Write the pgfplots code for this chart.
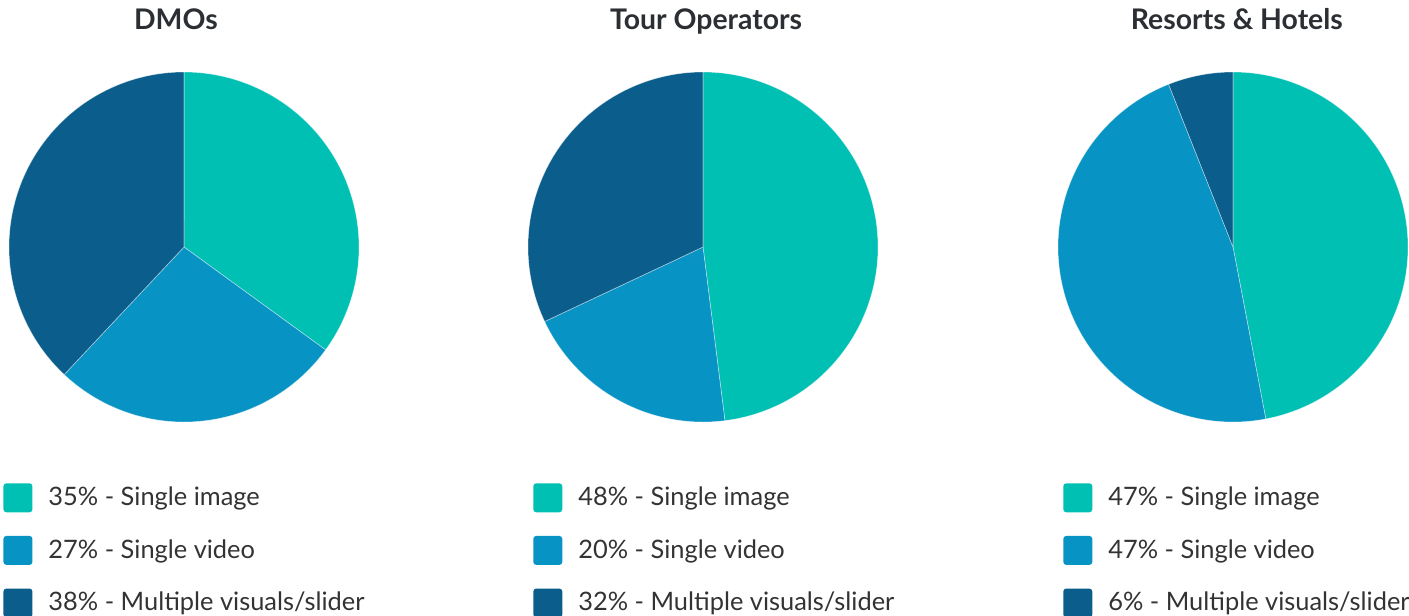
\documentclass[border=0pt]{standalone}
\usepackage{pgfplots}
\pgfplotsset{compat=1.18}
\usepackage{fontspec}
\setmainfont{Lato}
\definecolor{cA}{HTML}{00C0B4}
\definecolor{cB}{HTML}{0793C3}
\definecolor{cC}{HTML}{0B5E8C}
\definecolor{txt}{HTML}{333333}
\definecolor{ttl}{HTML}{2B2F33}
\pgfplotsset{
  pie/.style={width=175pt,height=175pt,scale only axis,
    xmin=-1,xmax=1,ymin=-1,ymax=1,hide axis,clip=false,anchor=origin,
    title style={font=\bfseries\fontsize{14.2}{17}\selectfont,text=ttl,anchor=base,inner sep=0pt},
    legend style={draw=none,fill=none,inner sep=0pt,anchor=north west,
      font=\fontsize{12.7}{15}\selectfont,text=txt,row sep=11.8pt,column sep=8pt,
      nodes={inner sep=0pt}},
    legend cell align=left,
    legend image code/.code={\fill[##1,draw=none,rounded corners=1.5pt] (0pt,-7.25pt) rectangle (14.5pt,7.25pt);},
  },
}
% start percentage, share, colour
\newcommand\slice[3]{\addplot[fill=#3,draw=white,draw opacity=0.5,line width=0.3pt,
  domain=90-3.6*#1:90-3.6*(#1+#2),samples=150] ({cos(x)},{sin(x)}) -- (axis cs:0,0) -- cycle;}
\begin{document}
\begin{tikzpicture}
\path (0pt,0pt) rectangle (704.5pt,-308pt);
\begin{axis}[pie,at={(92pt,-123.5pt)},title={DMOs},
  title style={at={(axis description cs:0.477,1.086)}},
  legend style={at={(axis description cs:-0.017,-0.174)}}]
  \slice{0}{35}{cA}
  \slice{35}{27}{cB}
  \slice{62}{38}{cC}
  \legend{35\% - Single image,27\% - Single video,38\% - Multiple visuals/slider}
\end{axis}
\begin{axis}[pie,at={(351.5pt,-123.5pt)},title={Tour Operators},
  title style={at={(axis description cs:0.509,1.086)}},
  legend style={at={(axis description cs:0.014,-0.174)}}]
  \slice{0}{48}{cA}
  \slice{48}{20}{cB}
  \slice{68}{32}{cC}
  \legend{48\% - Single image,20\% - Single video,32\% - Multiple visuals/slider}
\end{axis}
\begin{axis}[pie,at={(616.5pt,-123.5pt)},title={Resorts \& Hotels},
  title style={at={(axis description cs:0.511,1.086)}},
  legend style={at={(axis description cs:0.014,-0.174)}}]
  \slice{0}{47}{cA}
  \slice{47}{47}{cB}
  \slice{94}{6}{cC}
  \legend{47\% - Single image,47\% - Single video,6\% - Multiple visuals/slider}
\end{axis}
\pgfresetboundingbox
\path (0pt,0pt) rectangle (704.5pt,-308pt);
\end{tikzpicture}
\end{document}
